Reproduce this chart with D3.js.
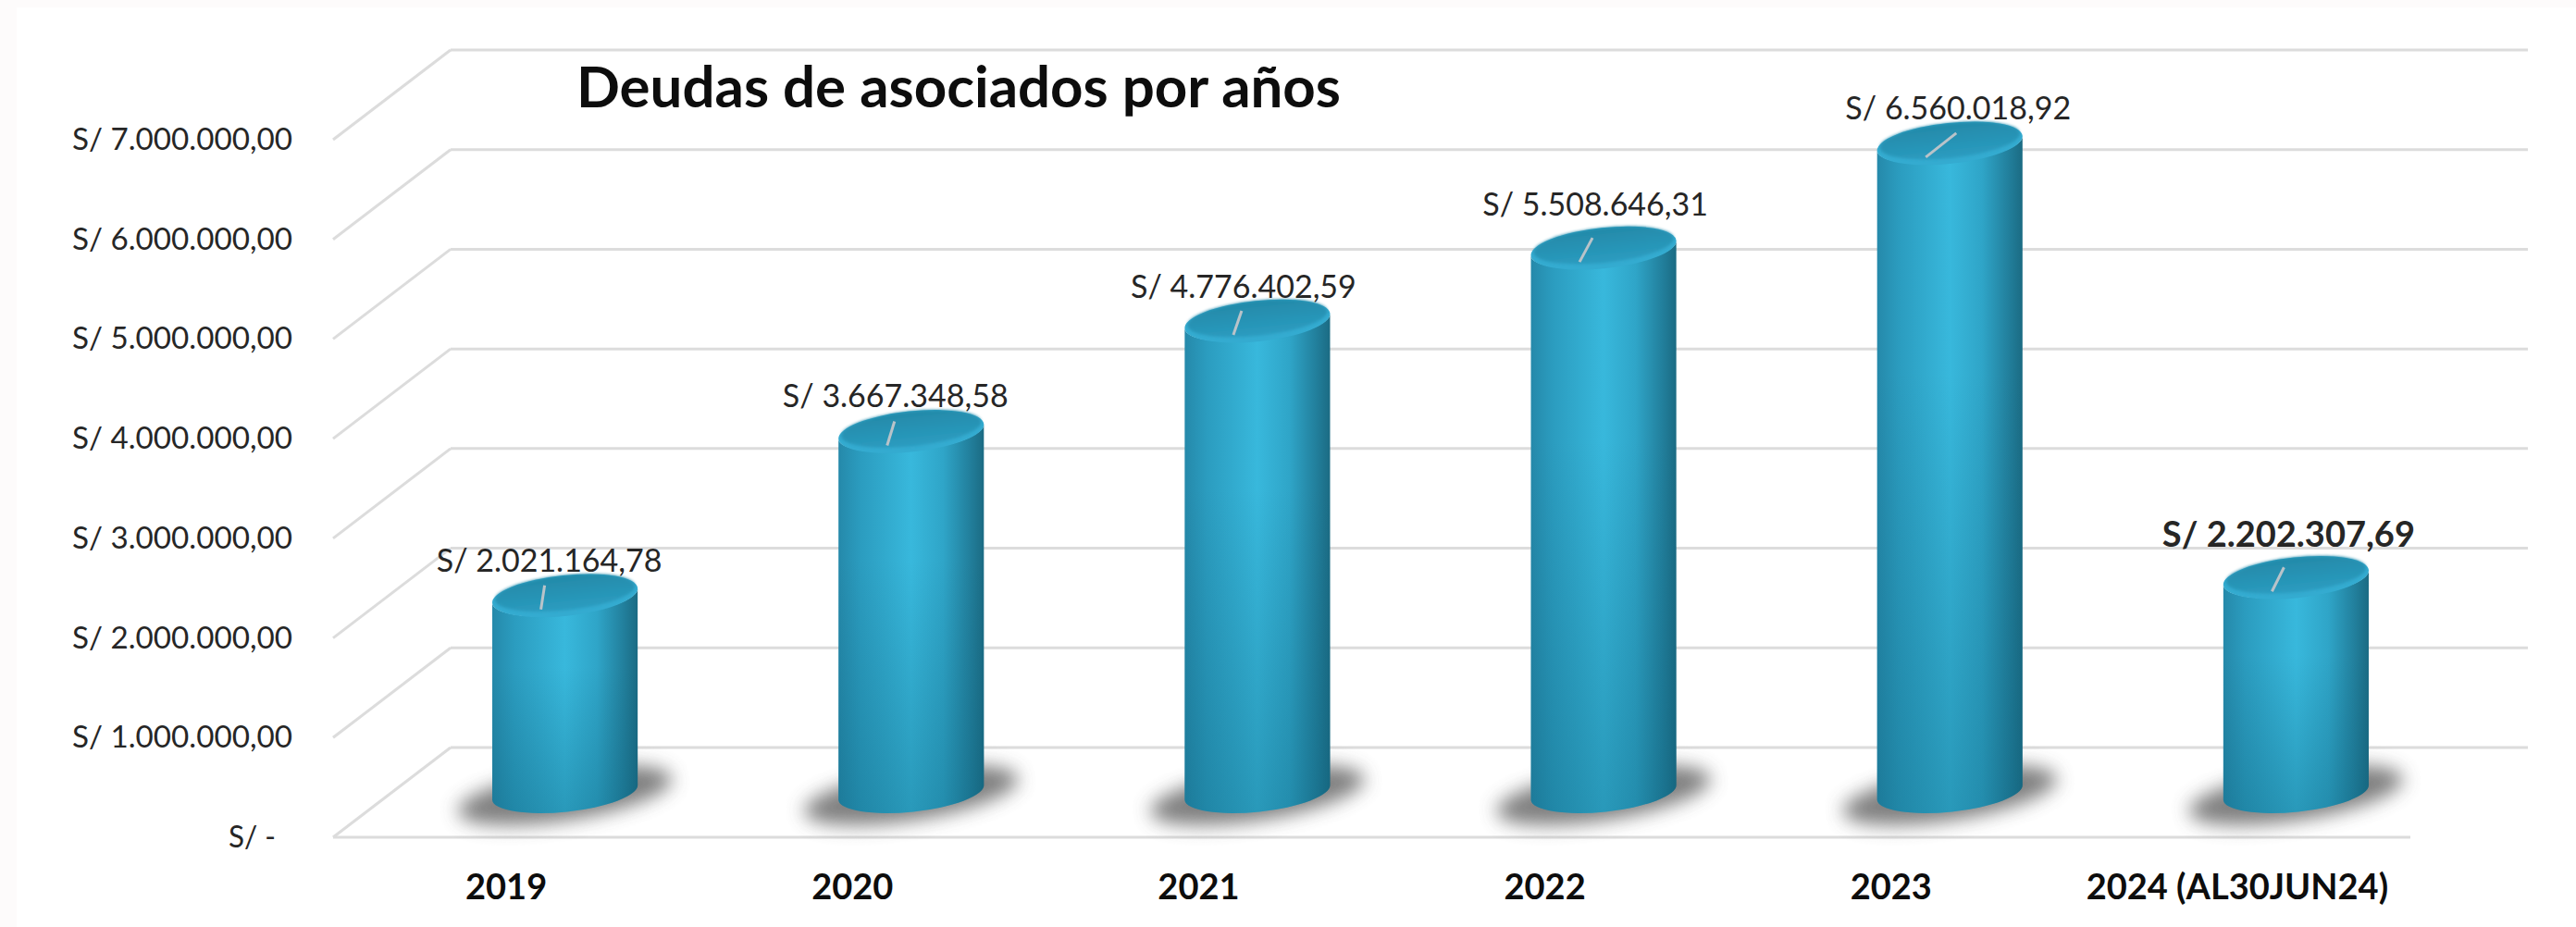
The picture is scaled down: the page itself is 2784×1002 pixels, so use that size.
<!DOCTYPE html>
<html>
<head>
<meta charset="utf-8">
<script src="https://cdn.jsdelivr.net/npm/d3@7"></script>
<style>
  html, body { margin: 0; padding: 0; background: #fdfbfb; }
  svg { display: block; }
  text { font-family: Lato, sans-serif; fill: #262626; }
  .axis path, .axis line { display: none; }
</style>
</head>
<body>
<svg id="chart" width="2784" height="1002"></svg>
<script>
var categories = ["2019", "2020", "2021", "2022", "2023", "2024 (AL30JUN24)"];
var deudas = [2021164.78, 3667348.58, 4776402.59, 5508646.31, 6560018.92, 2202307.69];
var yTicks = [0, 1000000, 2000000, 3000000, 4000000, 5000000, 6000000, 7000000];
var chartTitle = "Deudas de asociados por años";

// layout of the pseudo 3d box
var floorLeft = 360,
    floorRight = 2605,
    floorY = 905,
    topY = 151,
    depthX = 127,
    depthY = 97;

var radiusX = 79,
    radiusY = 21,
    tilt = -6,
    roofDrop = 5;

// label placement is by hand in the original too
var labelShiftX = [-17, -17, -15, -9, 9, -8];
var labelShiftY = [-38, -38, -37, -47, -38, -47];
var leaderLean = [4, 8, 9, 14, 33, 13];

var svg = d3.select("#chart");
var defs = svg.append("defs");

function linear(id, stops, vertical) {
  var g = defs.append("linearGradient").attr("id", id)
      .attr("x1", 0).attr("y1", 0)
      .attr("x2", vertical ? 0 : 1).attr("y2", vertical ? 1 : 0);
  stops.forEach(function(s) {
    g.append("stop").attr("offset", s[0]).attr("stop-color", s[1]).attr("stop-opacity", s[2] === undefined ? 1 : s[2]);
  });
}

linear("bodyFill", [[0, "#2589aa"], [0.15, "#2b9cbf"], [0.5, "#38b8dc"], [0.72, "#2fa5c8"], [0.9, "#22809d"], [1, "#1b6b83"]]);
linear("bodyShade", [[0, "#0d5f7a", 0], [0.35, "#0d5f7a", 0], [1, "#0d5f7a", 0.35]], true);
linear("roofFill", [[0, "#2389a8"], [1, "#2a9cc0"]], true);

defs.append("filter").attr("id", "shadowBlur")
    .attr("x", "-30%").attr("y", "-80%").attr("width", "160%").attr("height", "260%")
  .append("feGaussianBlur").attr("stdDeviation", 10);
defs.append("filter").attr("id", "soft")
    .attr("x", "-10%").attr("y", "-10%").attr("width", "120%").attr("height", "120%")
  .append("feGaussianBlur").attr("stdDeviation", 1.5);

svg.append("rect")
    .attr("x", 18).attr("y", 8).attr("width", 2766).attr("height", 994)
    .attr("fill", "#ffffff");

// Scales
var x = d3.scaleBand().domain(categories).range([floorLeft, floorRight]);
var y = d3.scaleLinear().domain([0, 7000000]).range([floorY, topY]);

function centerX(cat) { return x(cat) + x.bandwidth() / 2 + depthX / 2; }
function roofY(value) { return y(value) - depthY / 2 + roofDrop; }
var baseY = floorY - depthY / 2;

// Walls
var walls = svg.append("g")
    .attr("fill", "none")
    .attr("stroke", "#dcdcdc")
    .attr("stroke-width", 3);

walls.selectAll("line.back")
    .data(yTicks)
  .enter().append("line")
    .attr("class", "back")
    .attr("x1", floorLeft + depthX)
    .attr("x2", floorRight + depthX)
    .attr("y1", function(d) { return y(d) - depthY; })
    .attr("y2", function(d) { return y(d) - depthY; });

walls.selectAll("line.side")
    .data(yTicks)
  .enter().append("line")
    .attr("class", "side")
    .attr("x1", floorLeft)
    .attr("x2", floorLeft + depthX)
    .attr("y1", function(d) { return y(d); })
    .attr("y2", function(d) { return y(d) - depthY; });

walls.append("line")
    .attr("x1", floorLeft).attr("x2", floorRight)
    .attr("y1", y(0)).attr("y2", y(0));

// Axes
function tickLabel(d) {
  return d === 0 ? "S/ -" : "S/ " + d3.format(",.2f")(d).replace(/,/g, "#").replace(".", ",").replace(/#/g, ".");
}

var yAxis = svg.append("g")
    .attr("class", "axis")
    .attr("transform", "translate(" + (floorLeft - 44) + ",0)")
    .call(d3.axisLeft(y).tickValues(yTicks).tickSize(0).tickPadding(0).tickFormat(tickLabel));
yAxis.selectAll("text")
    .style("font-family", "Lato, sans-serif")
    .style("font-size", "33px")
    .style("fill", "#262626")
    .attr("textLength", function(d) { return d === 0 ? 51 : 238; })
    .attr("lengthAdjust", "spacingAndGlyphs")
    .attr("x", function(d) { return d === 0 ? -18 : 0; });
yAxis.select(".domain").remove();

var xAxis = svg.append("g")
    .attr("class", "axis")
    .attr("transform", "translate(0," + (floorY + 54) + ")")
    .call(d3.axisBottom(x).tickSize(0).tickPadding(0));
xAxis.selectAll("text")
    .style("font-family", "Lato, sans-serif")
    .style("font-size", "38px")
    .style("font-weight", "700")
    .style("fill", "#0d0d0d")
    .attr("dy", "0.35em")
    .attr("y", 0);
xAxis.select(".domain").remove();

// Shadows under the cylinders
svg.selectAll("ellipse.shadow")
    .data(categories)
  .enter().append("ellipse")
    .attr("class", "shadow")
    .attr("cx", function(d) { return centerX(d); })
    .attr("cy", baseY + 3)
    .attr("rx", radiusX + 38)
    .attr("ry", radiusY + 6)
    .attr("fill", "#505050")
    .attr("opacity", 0.72)
    .attr("filter", "url(#shadowBlur)")
    .attr("transform", function(d) { return "rotate(" + (tilt - 3) + " " + centerX(d) + " " + (baseY + 3) + ")"; });

// Cylinders
var rad = tilt * Math.PI / 180,
    offX = radiusX * Math.cos(rad),
    offY = radiusX * Math.sin(rad);

function bodyPath(cat, value) {
  var cx = centerX(cat),
      top = roofY(value);
  return "M" + (cx - offX) + "," + (top - offY) +
         "L" + (cx - offX) + "," + (baseY - offY) +
         "A" + radiusX + "," + radiusY + "," + tilt + ",0,0," + (cx + offX) + "," + (baseY + offY) +
         "L" + (cx + offX) + "," + (top + offY) +
         "A" + radiusX + "," + radiusY + "," + tilt + ",0,1," + (cx - offX) + "," + (top - offY) + "Z";
}

var bars = svg.selectAll("g.bar")
    .data(categories)
  .enter().append("g")
    .attr("class", "bar");

bars.append("path")
    .attr("d", function(d, i) { return bodyPath(d, deudas[i]); })
    .attr("fill", "url(#bodyFill)");

bars.append("path")
    .attr("d", function(d, i) { return bodyPath(d, deudas[i]); })
    .attr("fill", "url(#bodyShade)");

// Roof: bright rim with a darker inner face
bars.append("ellipse")
    .attr("cx", function(d) { return centerX(d); })
    .attr("cy", function(d, i) { return roofY(deudas[i]); })
    .attr("rx", radiusX)
    .attr("ry", radiusY + 1)
    .attr("fill", "#34abd0")
    .attr("transform", function(d, i) { return "rotate(" + tilt + " " + centerX(d) + " " + roofY(deudas[i]) + ")"; });

bars.append("ellipse")
    .attr("cx", function(d) { return centerX(d); })
    .attr("cy", function(d, i) { return roofY(deudas[i]) - 3; })
    .attr("rx", radiusX - 3)
    .attr("ry", radiusY - 2)
    .attr("fill", "url(#roofFill)")
    .attr("filter", "url(#soft)")
    .attr("transform", function(d, i) { return "rotate(" + tilt + " " + centerX(d) + " " + (roofY(deudas[i]) - 3) + ")"; });

// Leader lines
bars.append("line")
    .attr("x1", function(d) { return centerX(d) - 26; })
    .attr("y1", function(d, i) { return roofY(deudas[i]) + 15; })
    .attr("x2", function(d, i) { return centerX(d) - 26 + leaderLean[i]; })
    .attr("y2", function(d, i) { return roofY(deudas[i]) - 11; })
    .attr("stroke", "#b9c3c9")
    .attr("stroke-width", 3);

// Data labels
bars.append("text")
    .attr("x", function(d, i) { return centerX(d) + labelShiftX[i]; })
    .attr("y", function(d, i) { return roofY(deudas[i]) + labelShiftY[i]; })
    .attr("text-anchor", "middle")
    .attr("dy", "0.35em")
    .style("font-size", function(d, i) { return i === 5 ? "38px" : "34px"; })
    .style("font-weight", function(d, i) { return i === 5 ? "700" : "400"; })
    .text(function(d, i) { return tickLabel(deudas[i]); });

// Title
svg.append("text")
    .attr("x", 623)
    .attr("y", 94)
    .attr("dy", "0.35em")
    .style("font-size", "61.8px")
    .style("font-weight", "700")
    .style("fill", "#0d0d0d")
    .text(chartTitle);
</script>
</body>
</html>
